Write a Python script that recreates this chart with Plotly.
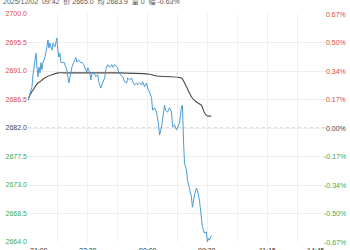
import plotly.graph_objects as go

# ---- data ----
header_text = "2025/12/02  09:42  价 2665.0  均 2683.9  量 0  幅 -0.63%"
prev_settle = 2682.0

price_idx = [0, 1, 2, 4, 5, 7, 8, 9, 10, 11, 12, 13, 14, 15, 17, 19, 20, 21, 22, 24,
             25, 27, 29, 30, 31, 32, 33, 34, 36, 38, 39, 40, 41, 43, 44, 46, 48, 49, 51, 53,
             54, 56, 57, 59, 60, 62, 63, 64, 66, 68, 70, 71, 73, 74, 76, 77, 78, 80, 82, 84,
             85, 87, 89, 90, 91, 93, 95, 97, 99, 100, 102, 104, 105, 107, 109, 110, 112, 114, 115, 117,
             119, 120, 122, 124, 125, 127, 129, 131, 132, 134, 137, 138, 140, 142, 144, 145, 147, 149, 152, 154,
             155, 156, 157, 159, 160, 162, 164, 165, 167, 169, 170, 172, 174, 175, 177, 179, 180, 181, 182, 184]
price_val = [2686.4, 2686.9, 2687.2, 2688.5, 2690.4, 2692.4, 2693.8, 2691.6, 2690.1, 2691.6,
             2690.7, 2692.3, 2691.2, 2692.3, 2693.2, 2694.8, 2695.9, 2694.6, 2695.4, 2694.3,
             2695.4, 2694.8, 2696.2, 2694.3, 2693.2, 2693.8, 2692.4, 2692.3, 2692.4, 2691.6,
             2691.2, 2690.1, 2689.1, 2690.7, 2691.6, 2692.4, 2693.1, 2692.4, 2692.7, 2692.3,
             2692.4, 2692.0, 2691.5, 2690.8, 2691.5, 2690.7, 2689.6, 2690.4, 2690.8, 2690.1,
             2690.4, 2689.3, 2688.3, 2688.8, 2689.6, 2689.9, 2691.2, 2692.0, 2691.6, 2692.0,
             2691.6, 2692.0, 2691.6, 2691.5, 2690.7, 2690.4, 2690.1, 2689.3, 2689.1, 2689.9,
             2689.6, 2689.9, 2689.3, 2688.8, 2689.1, 2688.8, 2689.1, 2688.8, 2689.3, 2688.5,
             2689.1, 2688.3, 2687.7, 2686.7, 2684.8, 2685.2, 2684.5, 2682.5, 2680.9, 2682.2,
             2685.6, 2684.8, 2684.5, 2685.2, 2684.5, 2682.2, 2682.5, 2681.7, 2682.8, 2685.3,
             2685.6, 2680.1, 2676.5, 2675.4, 2673.8, 2672.5, 2671.1, 2669.5, 2671.4, 2672.5,
             2672.2, 2670.6, 2668.3, 2666.4, 2665.4, 2665.6, 2664.0, 2664.6, 2664.3, 2665.0]

avg_idx = [0, 2, 5, 7, 10, 12, 15, 19, 24, 30, 40, 92, 122, 129, 154, 159, 164, 169, 174, 177, 180, 184]
avg_val = [2686.4, 2687.2, 2688.0, 2688.5, 2689.1, 2689.3, 2689.7, 2690.1, 2690.4, 2690.7,
           2690.7, 2690.7, 2690.5, 2690.2, 2689.9, 2688.5, 2686.9, 2686.1, 2685.6, 2684.4,
           2683.9, 2683.9]

y_ticks = [2700.0, 2695.5, 2691.0, 2686.5, 2682.0, 2677.5, 2673.0, 2668.5, 2664.0]
pct_labels = ["0.67%", "0.50%", "0.34%", "0.17%", "0.00%", "-0.17%", "-0.34%", "-0.50%", "-0.67%"]
x_total = 300
x_tick_pos = [0, 60, 120, 180, 240, 300]
x_tick_labels = ["21:00", "22:30", "00:00", "09:30", "11:15", "14:45"]

RED = "#e2483d"
GREEN = "#3daa4a"
NEUTRAL = "#444444"
FONT = "Liberation Sans, Arial, Noto Sans CJK SC, sans-serif"


def colour_for(v):
    if v > prev_settle:
        return RED
    if v < prev_settle:
        return GREEN
    return NEUTRAL


left_text = ['<span style="color:%s">%.1f</span>' % (colour_for(v), v) for v in y_ticks]

fig = go.Figure()
fig.add_trace(go.Scatter(x=avg_idx, y=avg_val, mode="lines",
                         line=dict(color="#4a4a4a", width=1.1, shape="spline", smoothing=0.5),
                         hoverinfo="skip", showlegend=False))
fig.add_trace(go.Scatter(x=price_idx, y=price_val, mode="lines",
                         line=dict(color="#4b9bd5", width=1),
                         showlegend=False))

fig.add_shape(type="line", xref="x", yref="y", x0=0, x1=x_total, y0=prev_settle, y1=prev_settle,
              line=dict(color="#bbbbbb", width=1, dash="3px,3px"), layer="below")

for v, t in zip(y_ticks, pct_labels):
    fig.add_annotation(x=1, y=v, xref="paper", yref="y", text=t, showarrow=False,
                       xanchor="right", yanchor="middle", xshift=21,
                       font=dict(size=7, color=colour_for(v), family=FONT))

for i, (pos, lab) in enumerate(zip(x_tick_pos, x_tick_labels)):
    anchor = "left" if i == 0 else ("right" if i == len(x_tick_pos) - 1 else "center")
    fig.add_annotation(x=pos, y=0, xref="x", yref="paper", text=lab, showarrow=False,
                       xanchor=anchor, yanchor="top", yshift=-3,
                       font=dict(size=7, color="#333333", family=FONT))

fig.add_annotation(x=0, y=1, xref="paper", yref="paper", text=header_text, showarrow=False,
                   xanchor="left", yanchor="bottom", xshift=-27, yshift=6,
                   font=dict(size=7, color="#555555", family=FONT))

fig.update_layout(
    width=350, height=250,
    margin=dict(l=28, r=23, t=14, b=8),
    paper_bgcolor="white", plot_bgcolor="white",
    font=dict(family=FONT, size=7),
    xaxis=dict(range=[0, x_total], tickmode="linear", tick0=0, dtick=30, automargin=False,
               showticklabels=False, showgrid=True, gridcolor="#f0f0f0", gridwidth=1,
               zeroline=False, showline=False, ticks=""),
    yaxis=dict(range=[2664.0, 2700.0], tickmode="array", tickvals=y_ticks, ticktext=left_text,
               automargin=False,
               showgrid=True, gridcolor="#eeeeee", gridwidth=1, zeroline=False,
               showline=False, ticks="", tickfont=dict(size=7, family=FONT)),
)

fig.write_html("out.html")
